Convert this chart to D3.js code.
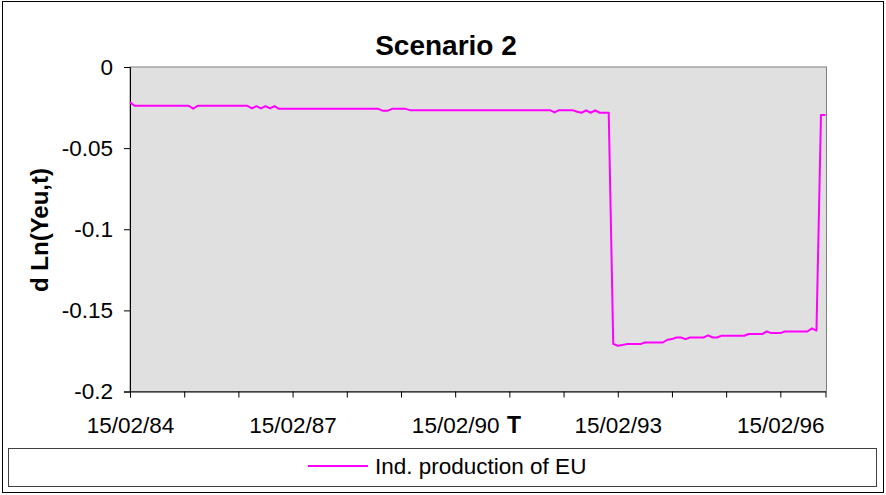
<!DOCTYPE html>
<html><head><meta charset="utf-8">
<script src="https://cdn.jsdelivr.net/npm/d3@7"></script>
<style>body{margin:0;background:#fff}svg{display:block}text{font-family:Arial,"Liberation Sans",sans-serif}</style>
</head><body><svg id="c" width="886" height="495"></svg>
<script>
// Categories: monthly observations 15/02/84 .. 15/12/96
const startYear = 1984, startMonth = 2, nMonths = 155;
const categories = [];
for (let i = 0; i < nMonths; i++) {
  const m = (startMonth - 1 + i) % 12 + 1, y = startYear + Math.floor((startMonth - 1 + i) / 12);
  categories.push("15/" + String(m).padStart(2, "0") + "/" + String(y % 100).padStart(2, "0"));
}
const seriesName = "Ind. production of EU";
const values = [
 -0.0218,
 -0.0239,-0.0239,-0.0239,-0.0239,-0.0239,-0.0239,-0.0239,-0.0239,-0.0239,-0.0239,-0.0239,-0.0239,-0.0239,
 -0.0257,
 -0.0239,-0.0239,-0.0239,-0.0239,-0.0239,-0.0239,-0.0239,-0.0239,-0.0239,-0.0239,-0.0239,-0.0239,
 -0.0255,-0.0241,-0.0255,-0.0241,-0.0255,-0.0241,
 -0.0258,-0.0258,-0.0258,-0.0258,-0.0258,-0.0258,-0.0258,-0.0258,-0.0258,-0.0258,-0.0258,-0.0258,
 -0.0258,-0.0258,-0.0258,-0.0258,-0.0258,-0.0258,-0.0258,-0.0258,-0.0258,-0.0258,-0.0258,
 -0.0270,-0.0270,
 -0.0258,-0.0258,-0.0258,-0.0258,
 -0.0266,-0.0266,-0.0266,-0.0266,-0.0266,-0.0266,-0.0266,-0.0266,-0.0266,-0.0266,-0.0266,-0.0266,
 -0.0266,-0.0266,-0.0266,-0.0266,-0.0266,-0.0266,-0.0266,-0.0266,-0.0266,-0.0266,-0.0266,-0.0266,
 -0.0266,-0.0266,-0.0266,-0.0266,-0.0266,-0.0266,-0.0266,-0.0266,
 -0.0280,
 -0.0266,-0.0266,-0.0266,-0.0266,
 -0.0276,
 -0.0282,-0.0267,-0.0282,-0.0267,
 -0.0282,-0.0282,-0.0282,
 -0.1706,-0.1718,-0.1714,
 -0.1708,-0.1708,-0.1708,-0.1708,
 -0.1698,-0.1698,-0.1698,-0.1698,-0.1698,
 -0.1681,-0.1677,
 -0.1667,-0.1667,
 -0.1677,
 -0.1667,-0.1667,-0.1667,-0.1667,
 -0.1654,-0.1667,-0.1667,
 -0.1656,-0.1656,-0.1656,-0.1656,-0.1656,-0.1656,
 -0.1646,-0.1646,-0.1646,-0.1646,
 -0.1630,
 -0.1640,-0.1640,-0.1640,
 -0.1630,-0.1630,-0.1630,-0.1630,-0.1630,-0.1630,
 -0.1611,-0.1625,
 -0.0296,-0.0296
];
const yTicks = [0, -0.05, -0.1, -0.15, -0.2];
const yTickLabels = ["0", "-0.05", "-0.1", "-0.15", "-0.2"];
const tickEvery = 12, labelEvery = 36;

const svg = d3.select("#c");
const L = 130, R = 825.5, T = 67, B = 391.5;
const x = d3.scalePoint().domain(categories).range([L, R]);
const y = d3.scaleLinear().domain([-0.2, 0]).range([B, T]);

// outer border
svg.append("rect").attr("x", 2.5).attr("y", 1.5).attr("width", 881).attr("height", 491)
  .attr("fill", "#fff").attr("stroke", "#000");
// plot area
svg.append("rect").attr("x", L).attr("y", T).attr("width", 826.5 - L).attr("height", B - T)
  .attr("fill", "#e0e0e0").attr("stroke", "#808080").attr("stroke-width", 1);

// title
svg.append("text").attr("x", 446).attr("y", 55).attr("text-anchor", "middle")
  .attr("font-size", 28).attr("font-weight", "bold").text("Scenario 2");

// y axis
const yAxis = d3.axisLeft(y).tickValues(yTicks).tickSize(6).tickPadding(11)
  .tickFormat((d, i) => yTickLabels[i]);
const gy = svg.append("g").attr("transform", `translate(${L},0)`).call(yAxis);
gy.select(".domain").attr("stroke", "#000");
gy.selectAll(".tick line").attr("stroke", "#000");
gy.selectAll(".tick text").attr("font-size", 22.5).attr("fill", "#000")
  .attr("font-family", "Arial, 'Liberation Sans', sans-serif");

// x axis
const xTickVals = categories.filter((d, i) => i % tickEvery === 0);
const xAxis = d3.axisBottom(x).tickValues(xTickVals).tickSize(6).tickPadding(20)
  .tickFormat(d => (categories.indexOf(d) % labelEvery === 0 ? d : ""));
const gx = svg.append("g").attr("transform", `translate(0,${B})`).call(xAxis);
gx.select(".domain").attr("stroke", "#000");
gx.selectAll(".tick line").attr("stroke", "#000");
gx.selectAll(".tick text").attr("font-size", 22.5).attr("fill", "#000")
  .attr("font-family", "Arial, 'Liberation Sans', sans-serif");

// axis titles
svg.append("text").attr("x", 507).attr("y", 433).attr("font-size", 23).attr("font-weight", "bold").text("T");
svg.append("text").attr("transform", "translate(48,230) rotate(-90)").attr("text-anchor", "middle")
  .attr("font-size", 24).attr("font-weight", "bold").text("d Ln(Yeu,t)");

// line
const line = d3.line().x((d, i) => x(categories[i])).y(d => y(d));
svg.append("path").datum(values).attr("d", line).attr("fill", "none")
  .attr("stroke", "#ff00ff").attr("stroke-width", 2).attr("stroke-linejoin", "round");

// legend
svg.append("rect").attr("x", 8.5).attr("y", 448.5).attr("width", 868).attr("height", 38)
  .attr("fill", "#fff").attr("stroke", "#404040");
svg.append("line").attr("x1", 308).attr("x2", 368).attr("y1", 466).attr("y2", 466)
  .attr("stroke", "#ff00ff").attr("stroke-width", 2);
svg.append("text").attr("x", 375).attr("y", 474).attr("font-size", 22.5).text(seriesName);
</script></body></html>
